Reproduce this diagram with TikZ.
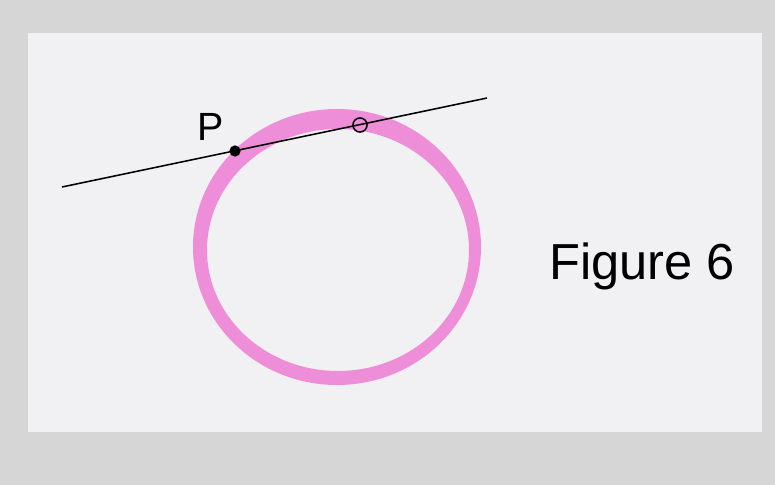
\documentclass[tikz,border=0pt]{standalone}
\usepackage{fontspec}
\setmainfont{Liberation Sans}
\definecolor{frame}{RGB}{214,214,214}
\definecolor{paper}{RGB}{241,240,242}
\definecolor{marker}{RGB}{238,142,216}
\begin{document}
\begin{tikzpicture}[x=0.025cm, y=-0.025cm, line width=1.1pt]
  \useasboundingbox (0,0) rectangle (775,485);
  \fill[frame] (0,0) rectangle (775,485);
  \fill[paper] (28,33) rectangle (762,432);
  % pink ring
  \fill[marker, even odd rule] (337,247) ellipse[x radius=144, y radius=138]
                               (338,250) ellipse[x radius=131, y radius=121];
  % line through the circle
  \coordinate (lineL) at (62,187);
  \coordinate (lineR) at (487,98);
  \draw (lineL) -- (lineR);
  \node[circle, fill=black, inner sep=0pt, minimum size=8pt] (P) at (235,151) {};
  \node[circle, draw=black, fill=none, line width=1.1pt, inner sep=0pt, minimum size=10pt] (Q) at (360,125) {};
  \node[font=\fontsize{28}{30}\selectfont] (Plabel) at (211,127) {P};
  \node[font=\fontsize{36}{38}\selectfont, anchor=west] (fig) at (544,266) {Figure 6};
\end{tikzpicture}
\end{document}
